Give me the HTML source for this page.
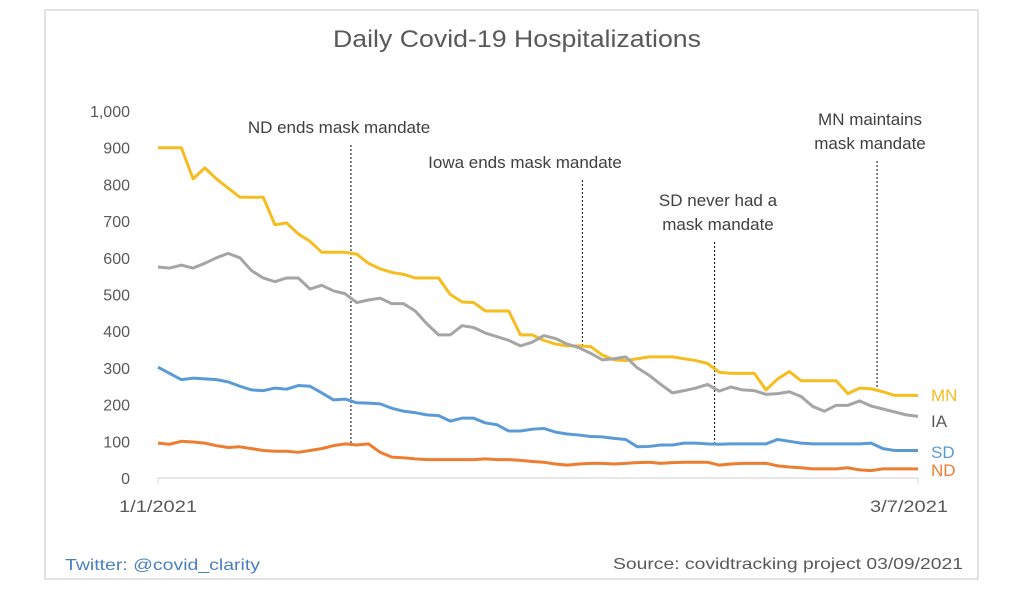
<!DOCTYPE html>
<html><head><meta charset="utf-8"><style>
body{margin:0;background:#fff;width:1024px;height:593px;overflow:hidden}
svg{display:block;font-family:"Liberation Sans",sans-serif}
</style></head><body>
<svg width="1024" height="593">
<rect x="45" y="10" width="933" height="569" fill="#fff" stroke="#d9d9d9" stroke-width="1.5"/>
<text x="517" y="47" text-anchor="middle" font-size="24" textLength="368" lengthAdjust="spacingAndGlyphs" fill="#595959">Daily Covid-19 Hospitalizations</text>
<g id="yaxis"></g>
<line x1="158" y1="478" x2="918" y2="478" stroke="#d9d9d9" stroke-width="1.2"/>
<line x1="158" y1="478" x2="158" y2="484" stroke="#d9d9d9"/>
<line x1="918" y1="478" x2="918" y2="484" stroke="#d9d9d9"/>
<text x="158" y="512" text-anchor="middle" font-size="17" textLength="78" lengthAdjust="spacingAndGlyphs" fill="#595959">1/1/2021</text>
<text x="909" y="512" text-anchor="middle" font-size="17" textLength="78" lengthAdjust="spacingAndGlyphs" fill="#595959">3/7/2021</text>
<g id="annots"></g>
<g id="series"></g>
<text x="65" y="570" font-size="16" textLength="195" lengthAdjust="spacingAndGlyphs" fill="#4a7fc0">Twitter: @covid_clarity</text>
<text x="963" y="569" text-anchor="end" font-size="16" textLength="350" lengthAdjust="spacingAndGlyphs" fill="#595959">Source: covidtracking project  03/09/2021</text>
</svg>
<script>
const yTicks=[0,100,200,300,400,500,600,700,800,900,1000];
const yTickLabels=["0","100","200","300","400","500","600","700","800","900","1,000"];
const seriesNames=["MN","IA","SD","ND"];
const seriesColors=["#f5bd1f","#a5a5a5","#5b9bd5","#ed7d31"];
const mn=[900,900,900,815,845,815,790,765,765,765,690,695,665,645,615,615,615,610,585,570,560,555,545,545,545,500,480,478,455,455,455,390,390,375,365,360,360,358,335,322,320,325,330,330,330,325,320,312,288,285,285,285,240,270,290,265,265,265,265,230,245,243,235,225,225,225];
const ia=[575,572,580,572,585,600,612,600,565,545,535,545,545,515,525,510,502,478,485,490,475,475,455,420,390,390,415,410,395,385,375,360,370,388,380,365,355,340,322,325,330,300,280,255,232,238,245,255,237,248,240,238,228,230,235,222,195,182,198,198,210,196,188,180,172,168];
const sd=[302,285,268,272,270,268,262,250,240,238,245,242,252,250,232,213,215,205,204,202,190,182,178,172,170,155,163,163,150,145,128,128,133,135,125,120,117,113,112,108,105,85,86,90,90,95,95,93,92,93,93,93,93,105,100,95,93,93,93,93,93,95,80,75,75,75];
const nd=[95,92,100,98,95,88,83,85,80,75,73,73,70,75,80,88,93,90,93,70,57,55,52,50,50,50,50,50,52,50,50,48,45,43,38,35,38,40,40,38,40,42,43,40,42,43,43,43,35,38,40,40,40,33,30,28,25,25,25,28,22,20,25,25,25,25];
const annotDays=[16.5,36.3,47.6,61.5];
const annotLines=[["ND ends mask mandate"],["Iowa ends mask mandate"],["SD never had a","mask mandate"],["MN maintains","mask mandate"]];
const annotValues=[90,360,90,240];

const NS="http://www.w3.org/2000/svg";
const X0=158,X1=918,Y0=478,Y1=111,NDAYS=65,YMAX=1000;
const xs=d=>X0+(X1-X0)*d/NDAYS;
const ys=v=>Y0-(Y0-Y1)*v/YMAX;
function mk(t,a){const e=document.createElementNS(NS,t);for(const k in a)e.setAttribute(k,a[k]);return e;}
const yg=document.getElementById('yaxis');
yTicks.forEach((t,i)=>{const e=mk('text',{x:130,y:ys(t)+6,'text-anchor':'end','font-size':16,fill:'#595959'});


e.textContent=yTickLabels[i];yg.appendChild(e);});
const ag=document.getElementById('annots');
const labelTops=[133,168,206,125];
const labelX=[339,525,718,870];
const labelW=[198,214,122,122];
annotDays.forEach((d,i)=>{const x=xs(d);
const ln=mk('line',{x1:x,y1:labelTops[i]+(annotLines[i].length*24)-12,x2:x,y2:ys(annotValues[i]),stroke:'#303030','stroke-width':1.2,'stroke-dasharray':'2,2'});


ag.appendChild(ln);
annotLines[i].forEach((s,j)=>{const t=mk('text',{x:labelX[i],y:labelTops[i]+j*24,'text-anchor':'middle','font-size':17,fill:'#404040'});


t.textContent=s;ag.appendChild(t);});});
const sg=document.getElementById('series');
[mn,ia,sd,nd].forEach((arr,i)=>{const p=mk('polyline',{points:arr.map((v,d)=>xs(d)+','+ys(v)).join(' '),fill:'none',stroke:seriesColors[i],'stroke-width':3,'stroke-linejoin':'round'});


sg.appendChild(p);
const ly=[401,427,458,476][i];
const t=mk('text',{x:931,y:ly,'font-size':17,fill:i==1?'#595959':seriesColors[i]});


t.textContent=seriesNames[i];sg.appendChild(t);});
</script>
</body></html>
